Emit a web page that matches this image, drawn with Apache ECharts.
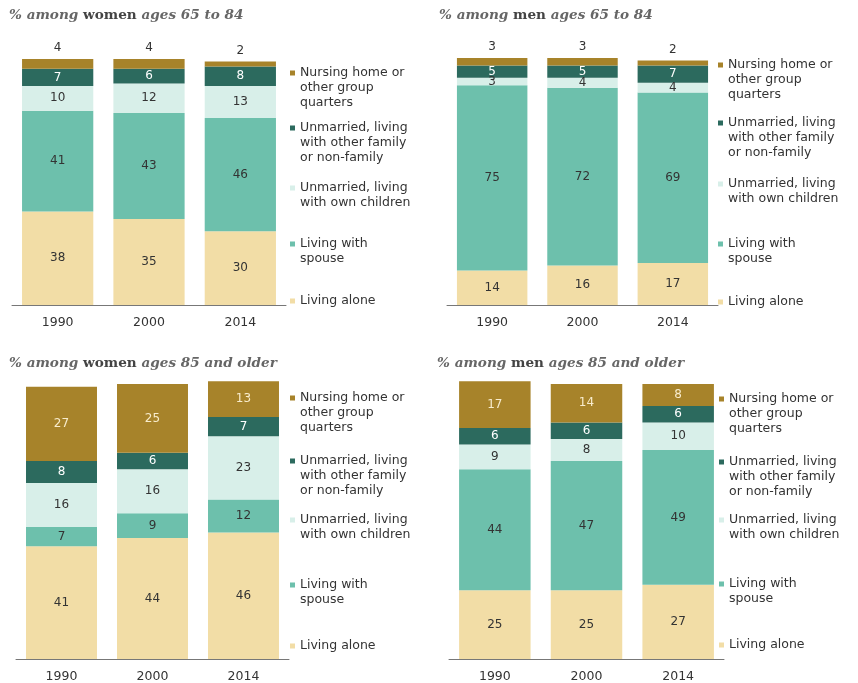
<!DOCTYPE html>
<html>
<head>
<meta charset="utf-8">
<script src="https://cdn.jsdelivr.net/npm/echarts@6/dist/echarts.min.js"></script>
<style>
html,body{margin:0;padding:0;background:#fff;}
#chart{width:858px;height:683px;}
</style>
</head>
<body>
<div id="chart"></div>
<script>
// ---- Data ----
const years = ['1990', '2000', '2014'];
const categoryNames = [
  'Living alone',
  'Living with spouse',
  'Unmarried, living with own children',
  'Unmarried, living with other family or non-family',
  'Nursing home or other group quarters'
];
const legendLines = [
  ['Living alone'],
  ['Living with', 'spouse'],
  ['Unmarried, living', 'with own children'],
  ['Unmarried, living', 'with other family', 'or non-family'],
  ['Nursing home or', 'other group', 'quarters']
];
const panelTitles = [
  ['% among ', 'women', ' ages 65 to 84'],
  ['% among ', 'men', ' ages 65 to 84'],
  ['% among ', 'women', ' ages 85 and older'],
  ['% among ', 'men', ' ages 85 and older']
];

// women 65-84
const women6584Alone = [38, 35, 30];
const women6584Spouse = [41, 43, 46];
const women6584OwnChildren = [10, 12, 13];
const women6584OtherFamily = [7, 6, 8];
const women6584Nursing = [4, 4, 2];
// men 65-84
const men6584Alone = [14, 16, 17];
const men6584Spouse = [75, 72, 69];
const men6584OwnChildren = [3, 4, 4];
const men6584OtherFamily = [5, 5, 7];
const men6584Nursing = [3, 3, 2];
// women 85+
const women85Alone = [41, 44, 46];
const women85Spouse = [7, 9, 12];
const women85OwnChildren = [16, 16, 23];
const women85OtherFamily = [8, 6, 7];
const women85Nursing = [27, 25, 13];
// men 85+
const men85Alone = [25, 25, 27];
const men85Spouse = [44, 47, 49];
const men85OwnChildren = [9, 8, 10];
const men85OtherFamily = [6, 6, 6];
const men85Nursing = [17, 14, 8];

const panelData = [
  [women6584Alone, women6584Spouse, women6584OwnChildren, women6584OtherFamily, women6584Nursing],
  [men6584Alone, men6584Spouse, men6584OwnChildren, men6584OtherFamily, men6584Nursing],
  [women85Alone, women85Spouse, women85OwnChildren, women85OtherFamily, women85Nursing],
  [men85Alone, men85Spouse, men85OwnChildren, men85OtherFamily, men85Nursing]
];

// ---- Styling / layout ----
const colors = ['#f2dda6', '#6dc0ac', '#d8efe9', '#2c6a5e', '#a7832a'];
const labelColors = ['#333', '#333', '#333', '#ffffff', '#f8eccc'];
const grids = [
  {left: 12, top: 59, width: 274, height: 246},
  {left: 447, top: 58, width: 271, height: 247},
  {left: 16, top: 384, width: 273, height: 275},
  {left: 449, top: 384, width: 275, height: 275}
];
const titlePos = [
  {left: 9, top: 8}, {left: 439, top: 8}, {left: 9, top: 356}, {left: 437, top: 356}
];
const legendX = [290, 718, 290, 719];
// first-line centre y for each legend item, in categoryNames order
const legendY = [
  [301, 244, 188, 128, 73],
  [302, 244, 184, 123, 65],
  [646, 585, 520, 461, 398],
  [645, 584, 520, 462, 399]
];
const LH = 15;
const ICON = 5;

const FONT = '"DejaVu Sans", sans-serif';

// icon path: a square at the top with an invisible point lower down,
// so that the square sits on the first text line
function iconPath(n) {
  const h = (n - 1) * LH + ICON;
  return 'path://M0,0L' + ICON + ',0L' + ICON + ',' + ICON + 'L0,' + ICON + 'Z M0,' + h + 'L0.001,' + h + 'Z';
}

const option = {
  animation: false,
  backgroundColor: '#ffffff',
  title: panelTitles.map((t, i) => ({
    text: '{a|' + t[0] + '}{b|' + t[1] + '}{a|' + t[2] + '}',
    left: titlePos[i].left,
    top: titlePos[i].top,
    padding: 0,
    textStyle: {
      rich: {
        a: {fontFamily: '"DejaVu Serif", serif', fontStyle: 'italic', fontSize: 13.6, color: '#666'},
        b: {fontFamily: '"DejaVu Serif", serif', fontWeight: 'bold', fontSize: 13.6, color: '#444'}
      }
    }
  })),
  grid: grids.map(g => Object.assign({containLabel: false}, g)),
  xAxis: grids.map((g, i) => ({
    type: 'category',
    gridIndex: i,
    data: years,
    axisLine: {lineStyle: {color: '#777', width: 1}},
    axisTick: {show: false},
    axisLabel: {color: '#333', fontSize: 12.5, fontFamily: FONT, margin: 11}
  })),
  yAxis: grids.map((g, i) => ({
    type: 'value',
    gridIndex: i,
    min: 0,
    max: 100,
    show: false,
    splitLine: {show: false}
  })),
  legend: [],
  series: []
};

panelData.forEach((arrs, p) => {
  arrs.forEach((vals, k) => {
    const isTopNursing = (k === 4 && p < 2);
    option.series.push({
      type: 'bar',
      name: categoryNames[k],
      xAxisIndex: p,
      yAxisIndex: p,
      stack: 'p' + p,
      data: vals,
      barCategoryGap: '22%',
      clip: false,
      itemStyle: {color: colors[k]},
      label: {
        show: true,
        position: isTopNursing ? 'top' : 'inside',
        distance: 5,
        color: isTopNursing ? '#333' : labelColors[k],
        fontSize: 12,
        fontFamily: FONT
      }
    });
  });
  categoryNames.forEach((name, k) => {
    const n = legendLines[k].length;
    option.legend.push({
      data: [name],
      left: legendX[p],
      top: legendY[p][k] - LH / 2,
      orient: 'vertical',
      padding: 0,
      icon: iconPath(n),
      itemWidth: ICON,
      itemHeight: (n - 1) * LH + ICON,
      itemGap: 0,
      selectedMode: false,
      formatter: () => legendLines[k].join('\n'),
      textStyle: {
        fontSize: 12.5,
        lineHeight: LH,
        color: '#333',
        fontFamily: FONT
      }
    });
  });
});

const chart = echarts.init(document.getElementById('chart'), null, {renderer: 'canvas'});
chart.setOption(option);
</script>
</body>
</html>
